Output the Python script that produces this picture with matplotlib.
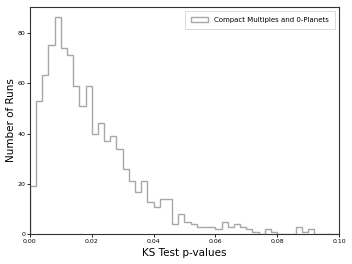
import numpy as np
import matplotlib
matplotlib.use("Agg")
import matplotlib.pyplot as plt

# counts per bin, bins of width 0.002 from 0 to 0.1
counts = [19, 53, 63, 75, 86, 74, 71, 59, 51, 59,
          40, 44, 37, 39, 34, 26, 21, 17, 21, 13,
          11, 14, 14, 4, 8, 5, 4, 3, 3, 3,
          2, 5, 3, 4, 3, 2, 1, 0, 2, 1,
          0, 0, 0, 3, 1, 2, 0, 0, 0, 0]
bin_lo = 0.0
bin_hi = 0.1
xticks = [0.00, 0.02, 0.04, 0.06, 0.08, 0.10]
yticks = [0, 20, 40, 60, 80]
label = "Compact Multiples and 0-Planets"

edges = np.linspace(bin_lo, bin_hi, len(counts) + 1)

fig = plt.figure(figsize=(3.52, 2.64), dpi=100)
ax = fig.add_axes([0.085, 0.112, 0.878, 0.863])

ax.hist(edges[:-1], bins=edges, weights=counts, histtype="step",
        color="#a8a8a8", linewidth=1.0, label=label)

ax.set_xlim(bin_lo, bin_hi)
ax.set_ylim(0, max(counts) * 1.05)
ax.set_xticks(xticks)
ax.set_xticklabels(["%.2f" % t for t in xticks])
ax.set_yticks(yticks)
ax.tick_params(labelsize=4.5, length=2, width=0.6, pad=1)
for s in ax.spines.values():
    s.set_linewidth(0.8)
    s.set_color("#333333")

ax.set_xlabel("KS Test p-values", fontsize=7.5, labelpad=3)
ax.set_ylabel("Number of Runs", fontsize=7.5, labelpad=1)

leg = ax.legend(loc="upper right", fontsize=5, fancybox=False,
                handlelength=2.4, handleheight=0.8, borderpad=0.9,
                borderaxespad=0.6, framealpha=1)
leg.get_frame().set_linewidth(0.5)
leg.get_frame().set_edgecolor("#cccccc")

fig.savefig("out.png", dpi=100)
